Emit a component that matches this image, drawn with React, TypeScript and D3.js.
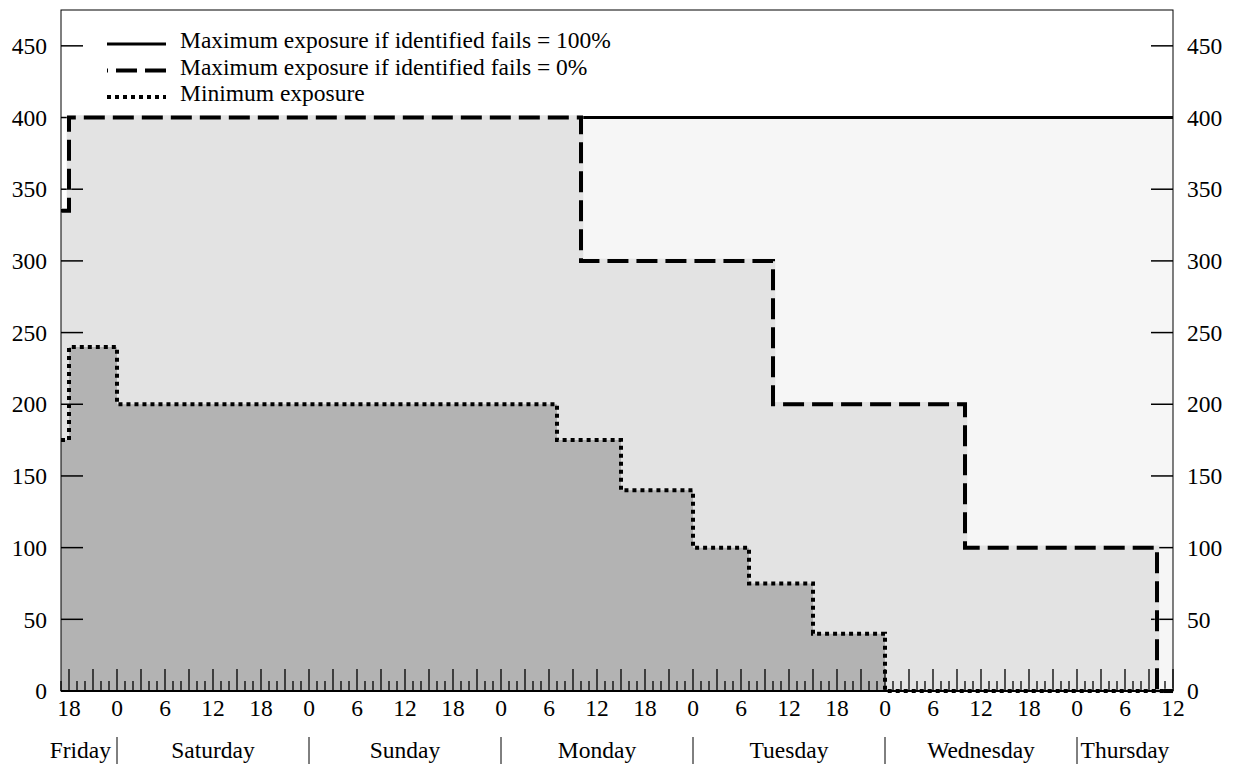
import React from 'react'
import * as d3 from 'd3'

// hours counted from Friday 00:00
const hourStart = 17
const hourEnd = 156

const maxFullHours = [17, 18, 156]
const maxFullValues = [335, 400, 400]

const maxZeroHours = [17, 18, 82, 106, 130, 154, 156]
const maxZeroValues = [335, 400, 300, 200, 100, 0, 0]

const minHours = [17, 18, 24, 79, 87, 96, 103, 111, 120, 156]
const minValues = [175, 240, 200, 175, 140, 100, 75, 40, 0, 0]

const yTicks = [0, 50, 100, 150, 200, 250, 300, 350, 400, 450]
const days = ['Friday', 'Saturday', 'Sunday', 'Monday', 'Tuesday', 'Wednesday', 'Thursday']

const legendLabels = [
  'Maximum exposure if identified fails = 100%',
  'Maximum exposure if identified fails = 0%',
  'Minimum exposure'
]

type Pt = {h: number; v: number}
const zip = (hs: number[], vs: number[]): Pt[] => hs.map((h, i) => ({h, v: vs[i]}))

export default function App() {
  const width = 1237
  const height = 764
  const left = 61
  const right = 1173
  const top = 10
  const bottom = 691
  const font = '"Liberation Serif", "Times New Roman", serif'
  const fs = 23.5

  const x = d3.scaleLinear().domain([hourStart, hourEnd]).range([left, right])
  const y = d3.scaleLinear().domain([0, 475]).range([bottom, top])

  const area = d3
    .area<Pt>()
    .x(d => x(d.h))
    .y0(y(0))
    .y1(d => y(d.v))
    .curve(d3.curveStepAfter)
  const line = d3
    .line<Pt>()
    .x(d => x(d.h))
    .y(d => y(d.v))
    .curve(d3.curveStepAfter)

  const full = zip(maxFullHours, maxFullValues)
  const zero = zip(maxZeroHours, maxZeroValues)
  const mins = zip(minHours, minValues)

  const hourTicks = d3.range(hourStart, hourEnd + 1)
  const labelTicks = hourTicks.filter(h => h % 6 === 0)
  const midnights = hourTicks.filter(h => h % 24 === 0)

  const dash = '21 8'
  const dot = '4 4'

  return (
    <svg
      width={width}
      height={height}
      style={{position: 'absolute', left: 0, top: 0, background: '#fff'}}
      fontFamily={font}
      fontSize={fs}
    >
      {/* filled areas */}
      <path d={area(full) || ''} fill="#f6f6f6" />
      <path d={area(zero) || ''} fill="#e3e3e3" />
      <path d={area(mins) || ''} fill="#b3b3b3" />

      {/* frame */}
      <rect x={left} y={top} width={right - left} height={bottom - top} fill="none" stroke="#000" strokeWidth={1} />

      {/* x ticks */}
      {hourTicks.map(h => (
        <line
          key={'xt' + h}
          x1={x(h)}
          x2={x(h)}
          y1={bottom}
          y2={bottom - (h % 3 === 0 ? 22 : 10)}
          stroke="#000"
          strokeWidth={1.3}
        />
      ))}
      {labelTicks.map(h => (
        <text key={'xl' + h} x={x(h)} y={716} textAnchor="middle">
          {h % 24}
        </text>
      ))}

      {/* y ticks both sides */}
      {yTicks.map(t => (
        <g key={'yt' + t}>
          <line x1={left} x2={left + 22} y1={y(t)} y2={y(t)} stroke="#000" strokeWidth={1.5} />
          <line x1={right - 22} x2={right} y1={y(t)} y2={y(t)} stroke="#000" strokeWidth={1.5} />
          <text x={47} y={y(t)} dy="0.35em" textAnchor="end">
            {t}
          </text>
          <text x={1187} y={y(t)} dy="0.35em" textAnchor="start">
            {t}
          </text>
        </g>
      ))}

      {/* lines */}
      <path d={line(full) || ''} fill="none" stroke="#000" strokeWidth={3} />
      <path d={line(zero) || ''} fill="none" stroke="#e3e3e3" strokeWidth={4.5} />
      <path d={line(zero) || ''} fill="none" stroke="#000" strokeWidth={4} strokeDasharray={dash} />
      <path d={line(mins) || ''} fill="none" stroke="#000" strokeWidth={4} strokeDasharray={dot} />

      <line x1={left} x2={right} y1={bottom} y2={bottom} stroke="#000" strokeWidth={2} />

      {/* day labels */}
      {midnights.map(h => (
        <line key={'sep' + h} x1={x(h)} x2={x(h)} y1={737} y2={height} stroke="#000" strokeWidth={1} />
      ))}
      {days.map((d, i) => {
        const s = Math.max(i * 24, hourStart)
        const e = Math.min(i * 24 + 24, hourEnd)
        const narrow = e - s < 10
        return (
          <text
            key={d}
            x={narrow ? x(e) - 6 : (x(s) + x(e)) / 2}
            y={758}
            textAnchor={narrow ? 'end' : 'middle'}
          >
            {d}
          </text>
        )
      })}

      {/* legend */}
      {legendLabels.map((l, i) => {
        const by = 48 + i * 26.5
        const ly = by - 4
        return (
          <g key={l}>
            <line
              x1={107}
              x2={166}
              y1={ly}
              y2={ly}
              stroke="#000"
              strokeWidth={i === 0 ? 3 : 4}
              strokeDasharray={i === 0 ? undefined : i === 1 ? dash : dot}
              strokeDashoffset={i === 1 ? 20 : 0}
            />
            <text x={180} y={by}>
              {l}
            </text>
          </g>
        )
      })}
    </svg>
  )
}
